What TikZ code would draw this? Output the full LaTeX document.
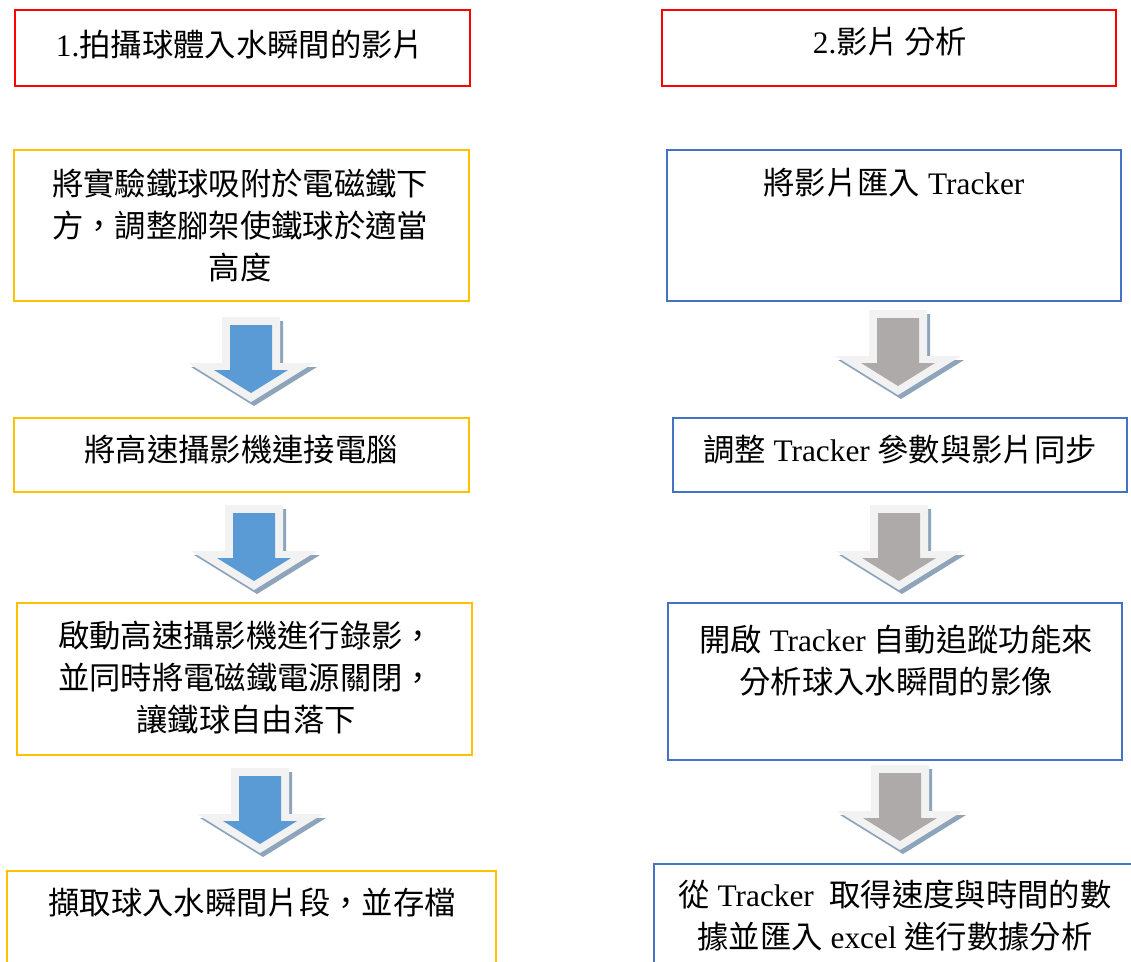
\documentclass[tikz,border=0pt]{standalone}
\usepackage{fontspec}
\setmainfont{Noto Sans CJK TC}
\newfontfamily\lat{Liberation Serif}
\definecolor{boxred}{HTML}{FF0000}
\definecolor{boxyel}{HTML}{FFC000}
\definecolor{boxblue}{HTML}{4472C4}
\definecolor{arrblue}{HTML}{5B9BD5}
\definecolor{arrgray}{HTML}{AEAAAA}
\definecolor{arrlight}{HTML}{F2F2F2}
\definecolor{arrshadow}{HTML}{8EA4BB}
\tikzset{
  x=0.75pt, y=-0.75pt,
  box/.style={draw, line width=1.5pt, fill=none, inner sep=0pt},
  txt/.style={font=\fontsize{23.5}{31.5}\selectfont, align=center, inner sep=0pt, text=black},
  pics/blockarrow/.style={code={
    \fill[arrshadow] (-26,4) -- (32,4) -- (32,50) -- (66,50) -- (3,89) -- (-60,50) -- (-26,50) -- cycle;
    \fill[arrlight] (-29,0) -- (29,0) -- (29,46) -- (63,46) -- (0,85) -- (-63,46) -- (-29,46) -- cycle;
    \fill[#1] (-21,8) -- (21,8) -- (21,53) -- (37,53) -- (0,76) -- (-37,53) -- (-21,53) -- cycle;
  }}
}
\begin{document}
\begin{tikzpicture}
\useasboundingbox (0,0) rectangle (1131,961);
\clip (0,0) rectangle (1131,961);
\fill[white] (0,0) rectangle (1131,961);
% left column
\node[box, draw=boxred, minimum width=455*0.75pt, minimum height=76*0.75pt] (l1) at (242.5,48) {};
\node[txt] (l1t) at (240,45) {{\lat 1.}拍攝球體入水瞬間的影片};
\node[box, draw=boxyel, minimum width=455*0.75pt, minimum height=151*0.75pt] (l2) at (241.5,225.5) {};
\node[txt] (l2t) at (240,225) {將實驗鐵球吸附於電磁鐵下\\方，調整腳架使鐵球於適當\\高度};
\node[box, draw=boxyel, minimum width=455*0.75pt, minimum height=74*0.75pt] (l3) at (241.5,455) {};
\node[txt] (l3t) at (241,450) {將高速攝影機連接電腦};
\node[box, draw=boxyel, minimum width=455*0.75pt, minimum height=152*0.75pt] (l4) at (244.5,679) {};
\node[txt] (l4t) at (246,678) {啟動高速攝影機進行錄影，\\並同時將電磁鐵電源關閉，\\讓鐵球自由落下};
\node[box, draw=boxyel, minimum width=489*0.75pt, minimum height=140*0.75pt] (l5) at (251.5,941) {};
\node[txt] (l5t) at (252,903) {擷取球入水瞬間片段，並存檔};
\pic (la1) at (251,317) {blockarrow=arrblue};
\pic (la2) at (254,505) {blockarrow=arrblue};
\pic (la3) at (260,768) {blockarrow=arrblue};
% right column
\node[box, draw=boxred, minimum width=454*0.75pt, minimum height=76*0.75pt] (r1) at (889,48) {};
\node[txt] (r1t) at (890,42) {{\lat 2.}影片\,分析};
\node[box, draw=boxblue, minimum width=454*0.75pt, minimum height=151*0.75pt] (r2) at (894,225.5) {};
\node[txt] (r2t) at (894,183) {將影片匯入{\lat\ Tracker}};
\node[box, draw=boxblue, minimum width=454*0.75pt, minimum height=74*0.75pt] (r3) at (900,455) {};
\node[txt] (r3t) at (900,450) {調整{\lat\ Tracker }參數與影片同步};
\node[box, draw=boxblue, minimum width=454*0.75pt, minimum height=157*0.75pt] (r4) at (895,681.5) {};
\node[txt] (r4t) at (896,661) {開啟{\lat\ Tracker }自動追蹤功能來\\分析球入水瞬間的影像};
\node[box, draw=boxblue, minimum width=500*0.75pt, minimum height=140*0.75pt] (r5) at (904,934) {};
\node[txt] (r5t) at (895,916) {從{\lat\ Tracker\ \ }取得速度與時間的數\\據並匯入{\lat\ excel }進行數據分析};
\pic (ra1) at (898,310) {blockarrow=arrgray};
\pic (ra2) at (899,505) {blockarrow=arrgray};
\pic (ra3) at (900,765) {blockarrow=arrgray};
\end{tikzpicture}
\end{document}
